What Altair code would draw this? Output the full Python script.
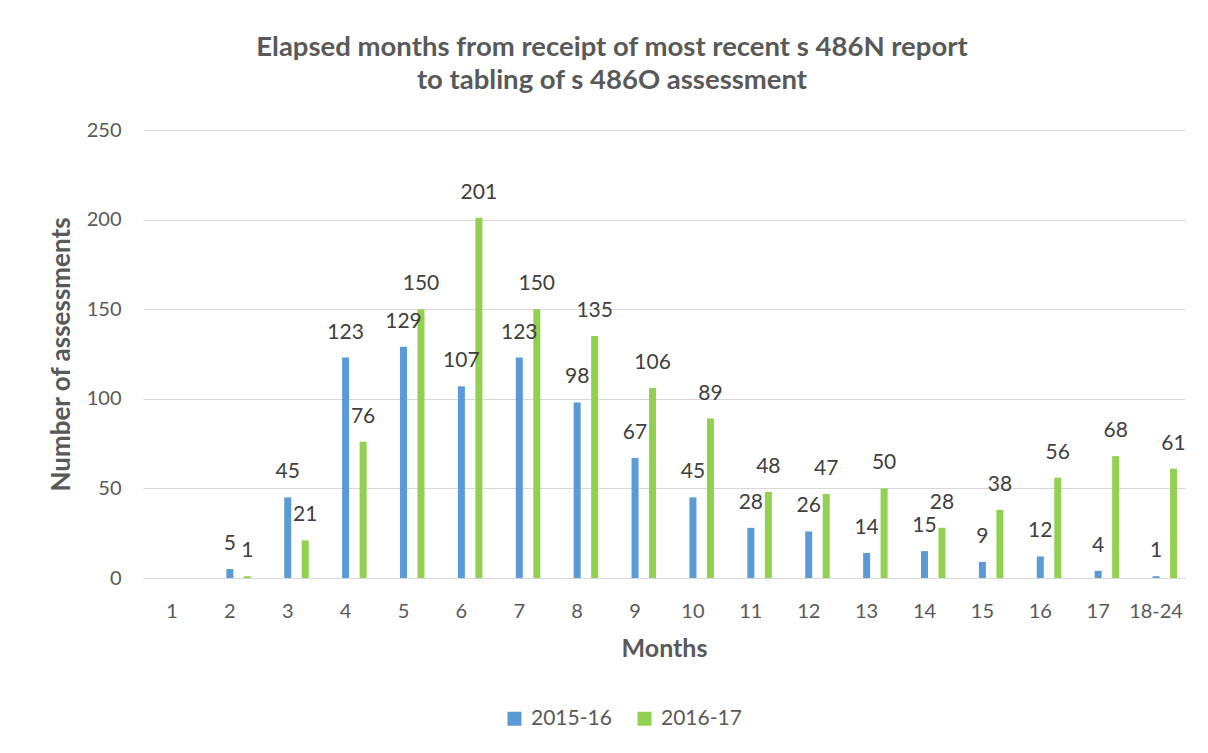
import altair as alt
import pandas as pd

months = ["1", "2", "3", "4", "5", "6", "7", "8", "9", "10", "11", "12",
          "13", "14", "15", "16", "17", "18-24"]
v_2015_16 = [None, 5, 45, 123, 129, 107, 123, 98, 67, 45, 28, 26, 14, 15, 9, 12, 4, 1]
v_2016_17 = [None, 1, 21, 76, 150, 201, 150, 135, 106, 89, 48, 47, 50, 28, 38, 56, 68, 61]
series = ["2015-16", "2016-17"]
colors = ["#5B9BD5", "#92D050"]
y_ticks = [0, 50, 100, 150, 200, 250]

rows = []
for m, a, b in zip(months, v_2015_16, v_2016_17):
    rows.append({"month": m, "series": series[0], "value": a})
    rows.append({"month": m, "series": series[1], "value": b})
df = pd.DataFrame(rows)

FONT = "Lato"
GRAY = "#595959"

x_enc = alt.X(
    "month:N", sort=months,
    scale=alt.Scale(domain=months, paddingInner=0, paddingOuter=0),
    axis=alt.Axis(title="Months", labelAngle=0, ticks=False, domainColor="#d9d9d9",
                  labelFont=FONT, labelFontSize=20, labelColor=GRAY, labelPadding=23,
                  titleFont=FONT, titleFontSize=25, titleFontWeight="bold",
                  titleColor=GRAY, titlePadding=15, grid=False),
)
y_enc = alt.Y(
    "value:Q",
    scale=alt.Scale(domain=[0, 250], nice=False),
    axis=alt.Axis(title="Number of assessments", values=y_ticks, ticks=False, domain=False,
                  gridColor="#d9d9d9", labelFont=FONT, labelFontSize=20, labelColor=GRAY,
                  labelPadding=22, titleFont=FONT, titleFontSize=26, titleFontWeight="bold",
                  titleColor=GRAY, titlePadding=12),
)
color_enc = alt.Color(
    "series:N",
    scale=alt.Scale(domain=series, range=colors),
    legend=alt.Legend(title=None, orient="none", legendX=361, legendY=578,
                      direction="horizontal", symbolType="square", symbolSize=196,
                      symbolStrokeWidth=0, labelFont=FONT, labelFontSize=21,
                      labelColor=GRAY, columnPadding=22, labelOffset=6),
)

base = alt.Chart(df).transform_filter("datum.value != null")

b1 = base.transform_filter(alt.datum.series == series[0]).mark_bar(width=7, xOffset=0).encode(
    x=x_enc, y=y_enc, color=color_enc)
b2 = base.transform_filter(alt.datum.series == series[1]).mark_bar(width=7, xOffset=17.5).encode(
    x=x_enc, y=y_enc, color=color_enc)
t1 = base.transform_filter(alt.datum.series == series[0]).mark_text(
    dy=-19, xOffset=0, baseline="alphabetic", font=FONT, fontSize=21, color="#404040").encode(
    x=x_enc, y=y_enc, text="value:Q")
t2 = base.transform_filter(alt.datum.series == series[1]).mark_text(
    dy=-19, xOffset=17.5, baseline="alphabetic", font=FONT, fontSize=21, color="#404040").encode(
    x=x_enc, y=y_enc, text="value:Q")

chart = alt.layer(b1, b2, t1, t2).properties(
    width=1042, height=448,
    padding={"left": 135, "top": 122, "right": 15, "bottom": 167},
    autosize=alt.AutoSizeParams(type="none"),
    title=alt.TitleParams(
        ["Elapsed months from receipt of most recent s 486N report",
         "to tabling of s 486O assessment"],
        font=FONT, fontSize=27.5, fontWeight="bold", color=GRAY, anchor="middle",
        frame="group", dx=-52, offset=26, lineHeight=33),
).configure_view(stroke=None)

chart.save("out.html", embed_options={"renderer": "svg", "actions": False})
